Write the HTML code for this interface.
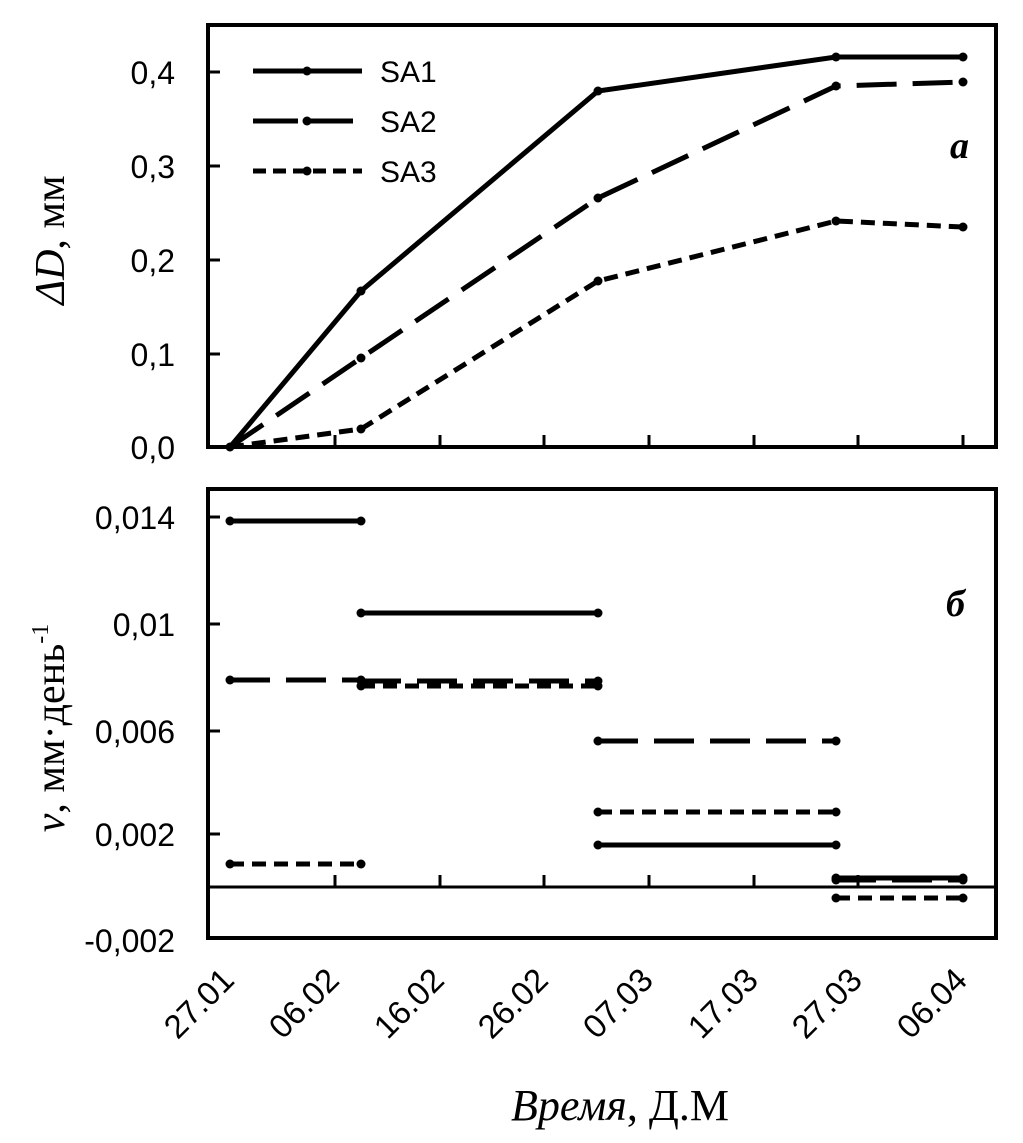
<!DOCTYPE html>
<html><head><meta charset="utf-8"><style>body{margin:0;background:#fff}svg{display:block}</style></head>
<body>
<svg width="1023" height="1143" viewBox="0 0 1023 1143" xmlns="http://www.w3.org/2000/svg">
<g fill="none" stroke="#000" stroke-width="4">
<rect x="208" y="25" width="788" height="422"/>
<rect x="208" y="489" width="788" height="449"/>
<line x1="208" y1="887" x2="996" y2="887" stroke-width="3"/>
</g>
<g stroke="#000" stroke-width="3">
<line x1="208" y1="72" x2="220" y2="72"/><line x1="208" y1="166" x2="220" y2="166"/><line x1="208" y1="260" x2="220" y2="260"/><line x1="208" y1="354" x2="220" y2="354"/>
<line x1="208" y1="517" x2="220" y2="517"/><line x1="208" y1="624" x2="220" y2="624"/><line x1="208" y1="731" x2="220" y2="731"/><line x1="208" y1="834" x2="220" y2="834"/>
<line x1="335" y1="447" x2="335" y2="435"/><line x1="440" y1="447" x2="440" y2="435"/><line x1="544" y1="447" x2="544" y2="435"/><line x1="649" y1="447" x2="649" y2="435"/><line x1="754" y1="447" x2="754" y2="435"/><line x1="858" y1="447" x2="858" y2="435"/><line x1="963" y1="447" x2="963" y2="435"/>
<line x1="335" y1="887" x2="335" y2="875"/><line x1="440" y1="887" x2="440" y2="875"/><line x1="544" y1="887" x2="544" y2="875"/><line x1="649" y1="887" x2="649" y2="875"/><line x1="754" y1="887" x2="754" y2="875"/><line x1="858" y1="887" x2="858" y2="875"/>
</g>
<g font-family="Liberation Sans, sans-serif" font-size="32" text-anchor="end" fill="#000">
<text x="175" y="84">0,4</text><text x="175" y="178">0,3</text><text x="175" y="272">0,2</text><text x="175" y="366">0,1</text><text x="175" y="459">0,0</text>
<text x="175" y="529">0,014</text><text x="175" y="636">0,01</text><text x="175" y="743">0,006</text><text x="175" y="846">0,002</text><text x="175" y="952">-0,002</text>
</g>
<g font-family="Liberation Sans, sans-serif" font-size="33" text-anchor="end" fill="#000">
<text transform="translate(236,982) rotate(-45)">27.01</text>
<text transform="translate(341,982) rotate(-45)">06.02</text>
<text transform="translate(446,982) rotate(-45)">16.02</text>
<text transform="translate(550,982) rotate(-45)">26.02</text>
<text transform="translate(655,982) rotate(-45)">07.03</text>
<text transform="translate(760,982) rotate(-45)">17.03</text>
<text transform="translate(864,982) rotate(-45)">27.03</text>
<text transform="translate(969,982) rotate(-45)">06.04</text>
</g>
<text x="620" y="1120" text-anchor="middle" font-family="Liberation Serif, serif" font-size="44"><tspan font-style="italic">Время</tspan>, Д.М</text>
<text transform="translate(64,240) rotate(-90)" text-anchor="middle" font-family="Liberation Serif, serif" font-size="42"><tspan font-style="italic">ΔD</tspan>, мм</text>
<text transform="translate(64,728) rotate(-90)" text-anchor="middle" font-family="Liberation Serif, serif" font-size="42"><tspan font-style="italic">v</tspan>, мм·день<tspan dy="-16" font-size="24">-1</tspan></text>
<text x="950" y="158" font-family="Liberation Serif, serif" font-size="38" font-style="italic" font-weight="bold">a</text>
<text x="946" y="616" font-family="Liberation Serif, serif" font-size="38" font-style="italic" font-weight="bold">б</text>
<g font-family="Liberation Sans, sans-serif" font-size="30"><text x="380" y="82">SA1</text><text x="380" y="132">SA2</text><text x="380" y="182">SA3</text></g>
<g fill="none" stroke="#000" stroke-width="5">
<line x1="253" y1="71" x2="362" y2="71"/>
<line x1="253" y1="121" x2="362" y2="121" stroke-dasharray="45,10"/>
<line x1="253" y1="171" x2="362" y2="171" stroke-dasharray="13,7"/>
<polyline points="230,447 361,291 598,91 836,57 963,57"/>
<polyline points="230,447 361,358 598,198 836,86 963,82" stroke-dasharray="40,16"/>
<polyline points="230,447 361,429 598,281 836,221 963,227" stroke-dasharray="14,8"/>
<line x1="230" y1="521" x2="361" y2="521"/><line x1="361" y1="613" x2="598" y2="613"/><line x1="598" y1="845" x2="836" y2="845"/><line x1="836" y1="878" x2="963" y2="878"/>
<g stroke-dasharray="40,16"><line x1="230" y1="680" x2="361" y2="680"/><line x1="361" y1="681" x2="598" y2="681"/><line x1="598" y1="741" x2="836" y2="741"/><line x1="836" y1="880" x2="963" y2="880"/></g>
<g stroke-dasharray="14,8"><line x1="230" y1="864" x2="361" y2="864"/><line x1="361" y1="686" x2="598" y2="686"/><line x1="598" y1="812" x2="836" y2="812"/><line x1="836" y1="898" x2="963" y2="898"/></g>
</g>
<g fill="#000">
<circle cx="307" cy="71" r="4.5"/><circle cx="307" cy="121" r="4.5"/><circle cx="307" cy="171" r="4.5"/>
<circle cx="230" cy="447" r="4.5"/><circle cx="361" cy="291" r="4.5"/><circle cx="598" cy="91" r="4.5"/><circle cx="836" cy="57" r="4.5"/><circle cx="963" cy="57" r="4.5"/>
<circle cx="361" cy="358" r="4.5"/><circle cx="598" cy="198" r="4.5"/><circle cx="836" cy="86" r="4.5"/><circle cx="963" cy="82" r="4.5"/>
<circle cx="361" cy="429" r="4.5"/><circle cx="598" cy="281" r="4.5"/><circle cx="836" cy="221" r="4.5"/><circle cx="963" cy="227" r="4.5"/>
<circle cx="230" cy="521" r="4.5"/><circle cx="361" cy="521" r="4.5"/><circle cx="361" cy="613" r="4.5"/><circle cx="598" cy="613" r="4.5"/><circle cx="598" cy="845" r="4.5"/><circle cx="836" cy="845" r="4.5"/><circle cx="836" cy="878" r="4.5"/><circle cx="963" cy="878" r="4.5"/>
<circle cx="230" cy="680" r="4.5"/><circle cx="361" cy="680" r="4.5"/><circle cx="361" cy="681" r="4.5"/><circle cx="598" cy="681" r="4.5"/><circle cx="598" cy="741" r="4.5"/><circle cx="836" cy="741" r="4.5"/><circle cx="836" cy="880" r="4.5"/><circle cx="963" cy="880" r="4.5"/>
<circle cx="230" cy="864" r="4.5"/><circle cx="361" cy="864" r="4.5"/><circle cx="361" cy="686" r="4.5"/><circle cx="598" cy="686" r="4.5"/><circle cx="598" cy="812" r="4.5"/><circle cx="836" cy="812" r="4.5"/><circle cx="836" cy="898" r="4.5"/><circle cx="963" cy="898" r="4.5"/>
</g>
</svg>
</body></html>
